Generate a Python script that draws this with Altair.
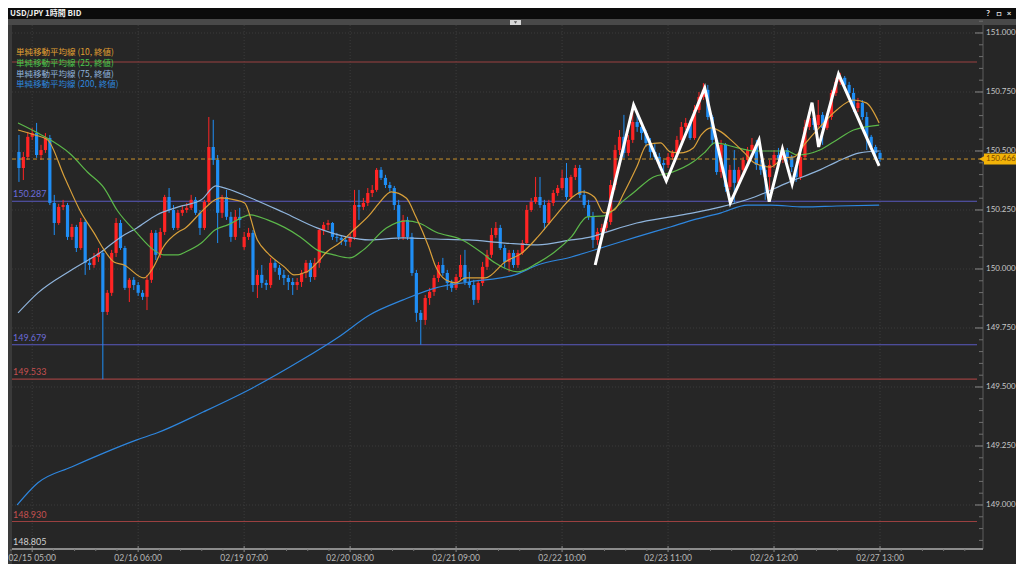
import altair as alt
import pandas as pd
import numpy as np

# ---------------- texts / ticks ----------------
title_text = "USD/JPY 1時間 BID"
legend_labels = ["単純移動平均線 (10, 終値)", "単純移動平均線 (25, 終値)",
                 "単純移動平均線 (75, 終値)", "単純移動平均線 (200, 終値)"]
legend_colors = ["#e0a032", "#4cc94c", "#8fb4dc", "#2e86de"]

time_tick_idx = [3, 27, 51, 75, 99, 123, 147, 171, 195]
time_tick_labels = ["02/15 05:00", "02/16 06:00", "02/19 07:00", "02/20 08:00", "02/21 09:00",
                    "02/22 10:00", "02/23 11:00", "02/26 12:00", "02/27 13:00"]
price_ticks = [149.0, 149.25, 149.5, 149.75, 150.0, 150.25, 150.5, 150.75, 151.0]

# ---------------- hourly candles (index 0 = 02/15 02:00) ----------------
close = [
    150.428, 150.475, 150.560, 150.576, 150.483, 150.504, 150.555, 150.280, 150.195, 150.263,
    150.271, 150.136, 150.178, 150.089, 150.199, 150.026, 150.017, 150.051, 150.068, 149.818,
    149.899, 150.068, 150.195, 150.089, 149.920, 149.954, 149.932, 149.899, 149.882, 149.954,
    150.153, 150.060, 150.157, 150.305, 150.250, 150.174, 150.238, 150.250, 150.259, 150.293,
    150.238, 150.174, 150.284, 150.517, 150.462, 150.238, 150.305, 150.221, 150.136, 150.221,
    150.208, 150.136, 150.153, 149.932, 149.975, 149.941, 149.932, 150.026, 150.005, 149.975,
    149.962, 149.945, 149.932, 149.945, 149.983, 150.026, 149.966, 150.026, 150.165, 150.187,
    150.195, 150.136, 150.132, 150.123, 150.115, 150.136, 150.271, 150.263, 150.280, 150.322,
    150.335, 150.420, 150.386, 150.356, 150.343, 150.271, 150.136, 150.208, 150.136, 149.983,
    149.814, 149.784, 149.877, 149.903, 149.962, 150.017, 149.983, 149.941, 149.920, 149.966,
    150.017, 149.945, 149.932, 149.869, 149.941, 150.009, 150.060, 150.144, 150.174, 150.089,
    150.030, 150.068, 150.017, 150.068, 150.110, 150.250, 150.284, 150.305, 150.271, 150.195,
    150.280, 150.322, 150.343, 150.386, 150.305, 150.390, 150.428, 150.314, 150.271, 150.221,
    150.123, 150.157, 150.174, 150.199, 150.356, 150.504, 150.560, 150.492, 150.547, 150.623,
    150.602, 150.576, 150.534, 150.496, 150.475, 150.449, 150.441, 150.475, 150.492, 150.547,
    150.602, 150.619, 150.555, 150.674, 150.729, 150.759, 150.644, 150.547, 150.411, 150.526,
    150.348, 150.420, 150.365, 150.420, 150.462, 150.504, 150.526, 150.441, 150.420, 150.390,
    150.441, 150.483, 150.462, 150.504, 150.475, 150.432, 150.390, 150.475, 150.602, 150.640,
    150.610, 150.653, 150.598, 150.644, 150.746, 150.793, 150.810, 150.780, 150.746, 150.682,
    150.704, 150.644, 150.560, 150.517, 150.492, 150.466,
]
high = [
    150.568, 150.496, 150.581, 150.598, 150.619, 150.526, 150.576, 150.568, 150.314, 150.276,
    150.293, 150.280, 150.191, 150.187, 150.216, 150.208, 150.047, 150.068, 150.089, 150.081,
    149.911, 150.081, 150.216, 150.208, 150.098, 149.962, 149.966, 149.945, 149.911, 149.975,
    150.165, 150.165, 150.174, 150.314, 150.343, 150.271, 150.250, 150.271, 150.280, 150.314,
    150.305, 150.250, 150.293, 150.644, 150.632, 150.483, 150.314, 150.335, 150.242, 150.250,
    150.259, 150.157, 150.174, 150.165, 149.996, 150.017, 149.954, 150.047, 150.038, 150.017,
    149.996, 149.975, 149.962, 149.962, 149.996, 150.038, 150.038, 150.047, 150.174, 150.199,
    150.208, 150.199, 150.153, 150.144, 150.136, 150.149, 150.335, 150.335, 150.301, 150.343,
    150.356, 150.428, 150.432, 150.399, 150.369, 150.352, 150.293, 150.229, 150.221, 150.153,
    149.996, 149.826, 149.890, 149.920, 149.975, 150.030, 150.047, 149.996, 149.954, 149.979,
    150.060, 150.081, 149.988, 149.954, 149.954, 150.030, 150.081, 150.174, 150.199, 150.187,
    150.102, 150.081, 150.081, 150.081, 150.123, 150.271, 150.301, 150.390, 150.390, 150.293,
    150.293, 150.335, 150.356, 150.420, 150.449, 150.399, 150.441, 150.441, 150.335, 150.293,
    150.242, 150.174, 150.191, 150.216, 150.377, 150.526, 150.589, 150.653, 150.568, 150.674,
    150.653, 150.610, 150.589, 150.555, 150.534, 150.492, 150.462, 150.492, 150.504, 150.564,
    150.623, 150.640, 150.632, 150.695, 150.750, 150.788, 150.780, 150.653, 150.555, 150.547,
    150.534, 150.441, 150.504, 150.432, 150.475, 150.517, 150.555, 150.547, 150.462, 150.441,
    150.462, 150.504, 150.513, 150.517, 150.513, 150.483, 150.441, 150.492, 150.632, 150.665,
    150.653, 150.716, 150.665, 150.661, 150.759, 150.810, 150.831, 150.818, 150.793, 150.767,
    150.725, 150.716, 150.665, 150.568, 150.526, 150.504,
]
low = [
    150.369, 150.377, 150.462, 150.547, 150.471, 150.462, 150.492, 150.271, 150.144, 150.187,
    150.250, 150.123, 150.123, 150.072, 150.081, 149.975, 149.996, 150.005, 150.030, 149.533,
    149.805, 149.886, 150.051, 150.081, 149.911, 149.860, 149.911, 149.886, 149.869, 149.826,
    149.941, 150.038, 150.047, 150.144, 150.238, 150.165, 150.165, 150.225, 150.238, 150.250,
    150.229, 150.144, 150.165, 150.271, 150.441, 150.110, 150.216, 150.208, 150.115, 150.123,
    150.174, 150.081, 150.123, 149.903, 149.877, 149.920, 149.911, 149.920, 149.988, 149.954,
    149.932, 149.911, 149.890, 149.911, 149.924, 149.962, 149.945, 149.954, 150.005, 150.144,
    150.165, 150.123, 150.115, 150.102, 150.098, 150.093, 150.123, 150.208, 150.250, 150.267,
    150.305, 150.327, 150.377, 150.343, 150.327, 150.250, 150.123, 150.123, 150.123, 149.971,
    149.776, 149.679, 149.763, 149.848, 149.886, 149.945, 149.971, 149.911, 149.903, 149.911,
    149.954, 149.932, 149.920, 149.848, 149.856, 149.928, 149.996, 150.047, 150.132, 150.081,
    150.005, 149.988, 150.005, 150.005, 150.060, 150.102, 150.242, 150.276, 150.259, 150.165,
    150.187, 150.267, 150.310, 150.335, 150.293, 150.297, 150.377, 150.301, 150.259, 150.208,
    150.089, 150.102, 150.140, 150.157, 150.187, 150.335, 150.483, 150.471, 150.479, 150.534,
    150.581, 150.547, 150.517, 150.471, 150.462, 150.428, 150.386, 150.428, 150.462, 150.479,
    150.534, 150.589, 150.547, 150.547, 150.661, 150.716, 150.632, 150.526, 150.399, 150.386,
    150.327, 150.335, 150.280, 150.348, 150.407, 150.454, 150.496, 150.420, 150.399, 150.293,
    150.335, 150.428, 150.441, 150.449, 150.454, 150.411, 150.369, 150.377, 150.462, 150.589,
    150.589, 150.598, 150.526, 150.589, 150.632, 150.733, 150.780, 150.767, 150.729, 150.665,
    150.665, 150.632, 150.504, 150.504, 150.479, 150.454,
]
# opens equal the previous close, except these session opens
open_gaps = {0: 150.496, 51: 150.093}

# ---------------- moving averages ----------------
ma10_i = [-0.2, 3.6, 6.5, 10.3, 14.1, 17.0, 19.3, 21.5, 23.8, 28.3, 30.5, 32.7, 36.1, 37.7, 41.3,
          44.4, 45.7, 48.9, 51.1, 54.0, 56.3, 60.1, 62.3, 65.2, 67.5, 69.7, 72.6, 75.8, 79.4, 81.6,
          84.3, 87.7, 89.9, 92.8, 94.4, 96.6, 98.9, 101.1, 105.6, 110.1, 113.9, 117.5, 121.3, 125.1,
          127.6, 130.3, 132.5, 134.8, 137.0, 139.9, 142.2, 145.3, 147.5, 149.8, 152.7, 154.5, 156.7,
          159.0, 161.2, 164.3, 166.6, 170.2, 173.3, 175.6, 177.8, 181.4, 185.2, 189.0, 191.9, 194.8]
ma10_v = [150.589, 150.568, 150.547, 150.390, 150.238, 150.153, 150.081, 150.030, 150.017, 149.962,
          150.009, 150.093, 150.157, 150.174, 150.242, 150.293, 150.301, 150.293, 150.280, 150.123,
          150.068, 150.009, 149.975, 149.988, 150.026, 150.072, 150.110, 150.165, 150.229, 150.280,
          150.327, 150.301, 150.221, 150.093, 150.009, 149.954, 149.941, 149.962, 149.962, 150.030,
          150.068, 150.136, 150.221, 150.301, 150.327, 150.305, 150.238, 150.250, 150.322, 150.432,
          150.526, 150.534, 150.496, 150.492, 150.513, 150.568, 150.598, 150.581, 150.547, 150.492,
          150.449, 150.432, 150.471, 150.475, 150.526, 150.602, 150.674, 150.716, 150.704, 150.619]
ma25_i = [-0.2, 4.3, 11.9, 15.5, 19.3, 22.2, 26.7, 30.5, 32.7, 36.1, 37.7, 41.3, 44.4, 47.3, 52.5,
          56.3, 63.7, 67.5, 71.3, 74.9, 78.0, 83.2, 87.7, 90.6, 94.4, 100.4, 104.9, 107.8, 113.0,
          117.5, 121.3, 125.1, 128.7, 132.5, 136.3, 139.9, 143.7, 147.5, 152.7, 155.4, 157.6, 162.8,
          166.6, 174.0, 176.2, 181.4, 185.2, 189.0, 194.8]
ma25_v = [150.619, 150.576, 150.483, 150.411, 150.343, 150.250, 150.153, 150.081, 150.060, 150.060,
          150.072, 150.110, 150.165, 150.187, 150.229, 150.208, 150.136, 150.081, 150.060, 150.047,
          150.081, 150.174, 150.204, 150.195, 150.157, 150.123, 150.068, 150.026, 149.988, 150.026,
          150.072, 150.136, 150.221, 150.225, 150.280, 150.335, 150.390, 150.407, 150.454, 150.496,
          150.534, 150.513, 150.500, 150.500, 150.483, 150.504, 150.547, 150.589, 150.610]
ma75_i = [-0.2, 4.3, 11.9, 18.6, 23.1, 26.7, 31.2, 36.1, 41.3, 44.6, 45.7, 52.5, 60.1, 67.5, 74.2,
          79.4, 87.0, 94.4, 101.8, 110.1, 117.5, 125.1, 129.6, 132.5, 139.9, 147.5, 152.7, 159.0,
          166.6, 174.0, 181.4, 185.2, 190.4, 194.8]
ma75_v = [149.814, 149.899, 149.996, 150.072, 150.136, 150.174, 150.229, 150.263, 150.293, 150.352,
          150.348, 150.301, 150.238, 150.174, 150.136, 150.123, 150.132, 150.127, 150.123, 150.110,
          150.102, 150.123, 150.136, 150.153, 150.195, 150.221, 150.238, 150.263, 150.305, 150.365,
          150.420, 150.454, 150.492, 150.500]
ma200_i = [-0.4, 4.3, 11.9, 19.3, 26.7, 31.2, 41.7, 52.9, 64.1, 72.4, 79.4, 87.0, 94.4, 101.8,
           112.3, 117.5, 125.1, 132.5, 139.9, 147.5, 152.7, 159.0, 165.0, 170.2, 177.8, 185.2, 194.8]
ma200_v = [149.000, 149.094, 149.161, 149.221, 149.276, 149.305, 149.394, 149.496, 149.615, 149.712,
           149.805, 149.869, 149.920, 149.945, 149.975, 150.017, 150.051, 150.093, 150.136, 150.178,
           150.208, 150.238, 150.271, 150.271, 150.263, 150.267, 150.271]

# ---------------- hand-drawn zigzag (white) ----------------
zz_i = [130.5, 139.2, 146.6, 155.3, 161.1, 167.6, 169.9, 172.9, 175.1, 179.6, 181.1, 185.6, 194.8]
zz_v = [150.017, 150.695, 150.373, 150.767, 150.280, 150.547, 150.285, 150.509, 150.360, 150.705,
        150.517, 150.826, 150.437]

# ---------------- horizontal levels ----------------
level_prices = [150.877, 150.287, 149.679, 149.533, 148.930]
level_kind = ["red", "purple", "purple", "red", "red"]
level_labels = ["", "150.287", "149.679", "149.533", "148.930"]
range_low = 148.805
last_price = 150.466

# ---------------- styling ----------------
W, H = 1008, 556
BG = "#262626"
UP, DOWN = "#ff2424", "#1f8ef5"
LINE_COL = {"red": "#9a4040", "purple": "#5a5ac0"}
LAB_COL = {"red": "#c45050", "purple": "#6c6cd8"}
NUM_FONT = "Lato"
JP_FONT = "Noto Sans CJK JP"
AX_X = 975          # right axis line
AX_Y = 541          # bottom axis line

XD = [-1.345, 224.66]
YD = [151.1059 - H / 236.0, 151.1059]
xsc = alt.Scale(domain=XD, nice=False, zero=False)
ysc = alt.Scale(domain=YD, nice=False, zero=False)


def X(f):
    return alt.X(f, type="quantitative", scale=xsc, axis=None)


def Y(f):
    return alt.Y(f, type="quantitative", scale=ysc, axis=None)


one = pd.DataFrame({"k": [0]})

# candles frame
n = len(close)
opens = [open_gaps.get(i, close[i - 1] if i > 0 else close[0]) for i in range(n)]
df = pd.DataFrame({"i": list(range(n)), "o": opens, "c": close, "h": high, "l": low})
df["hi"] = df[["h", "o", "c"]].max(axis=1)
df["lo"] = df[["l", "o", "c"]].min(axis=1)
df["dir"] = np.where(df["c"] >= df["o"], "up", "down")
cdir = alt.Color("dir:N", scale=alt.Scale(domain=["up", "down"], range=[UP, DOWN]), legend=None)

layers = []

# frame pieces
layers.append(alt.Chart(one).mark_rect(color="#3a3a3a").encode(
    x=alt.value(0), x2=alt.value(4), y=alt.value(11), y2=alt.value(H)))
layers.append(alt.Chart(one).mark_rect(color="#0c0c0c").encode(
    x=alt.value(0), x2=alt.value(W), y=alt.value(0), y2=alt.value(11)))
layers.append(alt.Chart(one).mark_rect(color="#494949").encode(
    x=alt.value(0), x2=alt.value(W), y=alt.value(11), y2=alt.value(17)))
layers.append(alt.Chart(one).mark_rect(color="#d6d6d6").encode(
    x=alt.value(502), x2=alt.value(513), y=alt.value(12), y2=alt.value(17)))
layers.append(alt.Chart(one).mark_point(shape="triangle-down", filled=True, size=10, color="#222").encode(
    x=alt.value(507.5), y=alt.value(14.5)))
layers.append(alt.Chart(one).mark_text(font=JP_FONT, fontWeight="bold", fontSize=8, color="#f0f0f0",
                                       align="left", baseline="middle").encode(
    x=alt.value(2), y=alt.value(6), text=alt.value(title_text)))
for xx, t in [(980, "?"), (991, "□"), (1001, "×")]:
    layers.append(alt.Chart(one).mark_text(fontWeight="bold", fontSize=8, color="#e8e8e8",
                                           align="center", baseline="middle", font=NUM_FONT).encode(
        x=alt.value(xx), y=alt.value(6), text=alt.value(t)))

# grid
tdf = pd.DataFrame({"i": time_tick_idx, "lab": time_tick_labels})
pdf = pd.DataFrame({"p": price_ticks, "lab": [f"{v:.3f}" for v in price_ticks]})
layers.append(alt.Chart(tdf).mark_rule(color="#3c3c3c", strokeDash=[1, 2]).encode(
    x=X("i"), y=alt.value(17), y2=alt.value(AX_Y)))
layers.append(alt.Chart(pdf).mark_rule(color="#3c3c3c", strokeDash=[1, 2]).encode(
    y=Y("p"), x=alt.value(4), x2=alt.value(AX_X)))

# level lines
ldf = pd.DataFrame({"p": level_prices,
                    "col": [LINE_COL[k] for k in level_kind],
                    "tcol": [LAB_COL[k] for k in level_kind],
                    "lab": level_labels})
layers.append(alt.Chart(ldf).mark_rule(strokeWidth=1.2).encode(
    y=Y("p"), x=alt.value(4), x2=alt.value(AX_X - 6), color=alt.Color("col:N", scale=None)))
layers.append(alt.Chart(ldf).mark_text(align="left", baseline="bottom", dy=-2, fontSize=9,
                                       font=NUM_FONT).encode(
    y=Y("p"), x=alt.value(5), text="lab:N", color=alt.Color("tcol:N", scale=None)))
layers.append(alt.Chart(pd.DataFrame({"p": [range_low], "lab": [f"{range_low:.3f}"]})).mark_text(
    align="left", baseline="bottom", dy=-4, fontSize=9, font=NUM_FONT, color="#d0d0d0").encode(
    y=Y("p"), x=alt.value(5), text="lab:N"))

# candles
layers.append(alt.Chart(df).mark_rule(strokeWidth=1).encode(
    x=X("i"), y=Y("lo"), y2=alt.Y2("hi"), color=cdir))
layers.append(alt.Chart(df).mark_bar(size=3.2).encode(
    x=X("i"), y=Y("o"), y2=alt.Y2("c"), color=cdir))

# moving averages
for xi, yv, col in [(ma200_i, ma200_v, legend_colors[3]), (ma75_i, ma75_v, legend_colors[2]),
                    (ma25_i, ma25_v, "#5cb84a"), (ma10_i, ma10_v, "#d9a03a")]:
    layers.append(alt.Chart(pd.DataFrame({"i": xi, "v": yv})).mark_line(
        color=col, strokeWidth=1.2, interpolate="monotone").encode(x=X("i"), y=Y("v")))

# current price dashed line
lp = pd.DataFrame({"p": [last_price], "lab": [f"{last_price:.3f}"]})
layers.append(alt.Chart(lp).mark_rule(color="#c9922c", strokeDash=[4, 3], strokeWidth=1).encode(
    y=Y("p"), x=alt.value(4), x2=alt.value(AX_X - 2)))

# zigzag
layers.append(alt.Chart(pd.DataFrame({"i": zz_i, "v": zz_v})).mark_line(
    color="#ffffff", strokeWidth=3).encode(x=X("i"), y=Y("v")))

# legend
for k, (t, col) in enumerate(zip(legend_labels, legend_colors)):
    layers.append(alt.Chart(one).mark_text(font=JP_FONT, fontSize=8.5, color=col, align="left",
                                           baseline="middle").encode(
        x=alt.value(8), y=alt.value(44 + 10.8 * k), text=alt.value(t)))

# right axis
layers.append(alt.Chart(one).mark_rule(color="#5c5c5c").encode(
    x=alt.value(AX_X), y=alt.value(17), y2=alt.value(AX_Y)))
minor_p = [round(v, 3) for v in np.arange(148.85, 151.10, 0.05) if round(v, 3) not in price_ticks]
layers.append(alt.Chart(pd.DataFrame({"p": minor_p})).mark_rule(color="#6e6e6e").encode(
    y=Y("p"), x=alt.value(AX_X - 4), x2=alt.value(AX_X)))
layers.append(alt.Chart(pdf).mark_rule(color="#8a8a8a").encode(
    y=Y("p"), x=alt.value(AX_X - 8), x2=alt.value(AX_X)))
layers.append(alt.Chart(pdf).mark_text(align="left", baseline="middle", fontSize=8, font=NUM_FONT,
                                       color="#c8c8c8").encode(
    y=Y("p"), x=alt.value(AX_X + 3), text="lab:N"))

# current price tag
half = 5.5 * (YD[1] - YD[0]) / H
tag = pd.DataFrame({"t": [last_price + half], "b": [last_price - half], "p": [last_price]})
layers.append(alt.Chart(tag).mark_rect(color="#f2b308").encode(
    y=Y("t"), y2=alt.Y2("b"), x=alt.value(AX_X + 1), x2=alt.value(W)))
layers.append(alt.Chart(tag).mark_point(shape="triangle-left", filled=True, size=45,
                                        color="#f2b308", opacity=1).encode(
    y=Y("p"), x=alt.value(AX_X - 1)))
layers.append(alt.Chart(lp).mark_text(align="left", baseline="middle", fontSize=8, font=NUM_FONT,
                                      color="#7a4800").encode(
    y=Y("p"), x=alt.value(AX_X + 3), text="lab:N"))

# bottom axis
layers.append(alt.Chart(one).mark_rule(color="#8c8c8c", strokeWidth=2).encode(
    x=alt.value(4), x2=alt.value(AX_X), y=alt.value(AX_Y)))
minor_i = [3 + 4.8 * k for k in range(-1, 46) if (k % 5) != 0]
layers.append(alt.Chart(pd.DataFrame({"i": minor_i})).mark_rule(color="#777777").encode(
    x=X("i"), y=alt.value(AX_Y), y2=alt.value(AX_Y + 2)))
layers.append(alt.Chart(tdf).mark_rule(color="#8c8c8c").encode(
    x=X("i"), y=alt.value(AX_Y - 3), y2=alt.value(AX_Y + 3)))
layers.append(alt.Chart(tdf).mark_text(align="center", baseline="middle", fontSize=8.5, font=NUM_FONT,
                                       color="#b8b8b8").encode(
    x=X("i"), y=alt.value(AX_Y + 9), text="lab:N"))

chart = alt.layer(*layers).properties(
    width=W, height=H, padding=0, background=BG,
    autosize=alt.AutoSizeParams(type="none"),
).configure_view(strokeWidth=0)

chart.save("out.html", embed_options={"renderer": "svg", "actions": False})
